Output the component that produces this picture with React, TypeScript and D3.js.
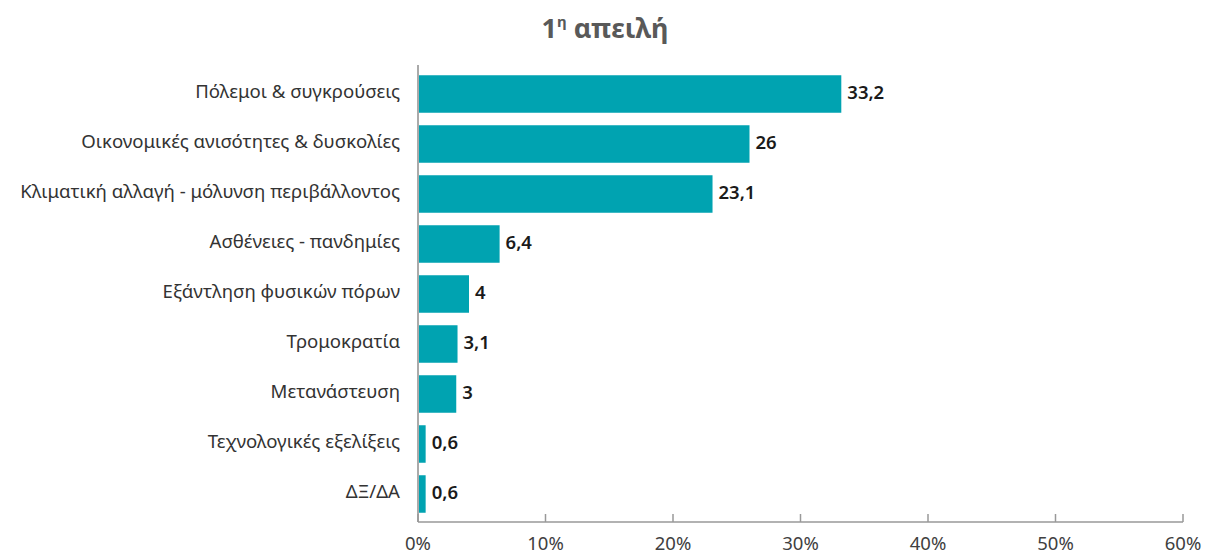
import React from "react";
import * as d3 from "d3";

const categories = [
  "Πόλεμοι & συγκρούσεις",
  "Οικονομικές ανισότητες & δυσκολίες",
  "Κλιματική αλλαγή - μόλυνση περιβάλλοντος",
  "Ασθένειες - πανδημίες",
  "Εξάντληση φυσικών πόρων",
  "Τρομοκρατία",
  "Μετανάστευση",
  "Τεχνολογικές εξελίξεις",
  "ΔΞ/ΔΑ",
];
const values = [33.2, 26, 23.1, 6.4, 4, 3.1, 3, 0.6, 0.6];
const xTicks = [0, 10, 20, 30, 40, 50, 60];

const W = 1205;
const H = 555;
const FONT = "'Noto Sans', 'DejaVu Sans', sans-serif";

export default function App() {
  const x = d3.scaleLinear().domain([0, 60]).range([418, 1183]);
  const y = d3
    .scaleBand<string>()
    .domain(categories)
    .range([69, 519])
    .paddingInner(0.25)
    .paddingOuter(0.125);
  const axisY = 522;
  const fmt = (v: number) => String(v).replace(".", ",");

  return (
    <svg
      width={W}
      height={H}
      style={{ position: "absolute", left: 0, top: 0, background: "#fff" }}
      fontFamily={FONT}
    >
      <text
        x={605}
        y={38}
        textAnchor="middle"
        fontSize={27}
        fontWeight={700}
        fill="#595959"
      >
        1
        <tspan fontSize={15} dy={-11}>η</tspan>
        <tspan dy={11}> απειλή</tspan>
      </text>

      {categories.map((c, i) => {
        const cy = (y(c) as number) + y.bandwidth() / 2;
        return (
          <g key={c}>
            <rect
              x={x(0) + 1}
              y={y(c)}
              width={x(values[i]) - x(0) - 1}
              height={y.bandwidth()}
              fill="#00A3B1"
            />
            <text
              x={x(values[i]) + 6}
              y={cy - 1.5}
              dy="0.36em"
              fontSize={18.5}
              fontWeight={600}
              fill="#1a1a1a"
            >
              {fmt(values[i])}
            </text>
            <text
              x={400}
              y={cy - 3}
              dy="0.36em"
              textAnchor="end"
              fontSize={18.6}
              fill="#333"
            >
              {c}
            </text>
          </g>
        );
      })}

      <line x1={x(0)} x2={x(0)} y1={65} y2={axisY} stroke="#aaa" strokeWidth={2} />
      <line x1={x(0)} x2={x(60)} y1={axisY} y2={axisY} stroke="#999" strokeWidth={1.5} />
      {xTicks.map((t) => (
        <g key={t}>
          <line x1={x(t)} x2={x(t)} y1={axisY - 8} y2={axisY} stroke="#999" strokeWidth={1.5} />
          <text
            x={x(t)}
            y={550}
            textAnchor="middle"
            fontSize={18.5}
            fill="#404040"
          >
            {t}%
          </text>
        </g>
      ))}
    </svg>
  );
}
